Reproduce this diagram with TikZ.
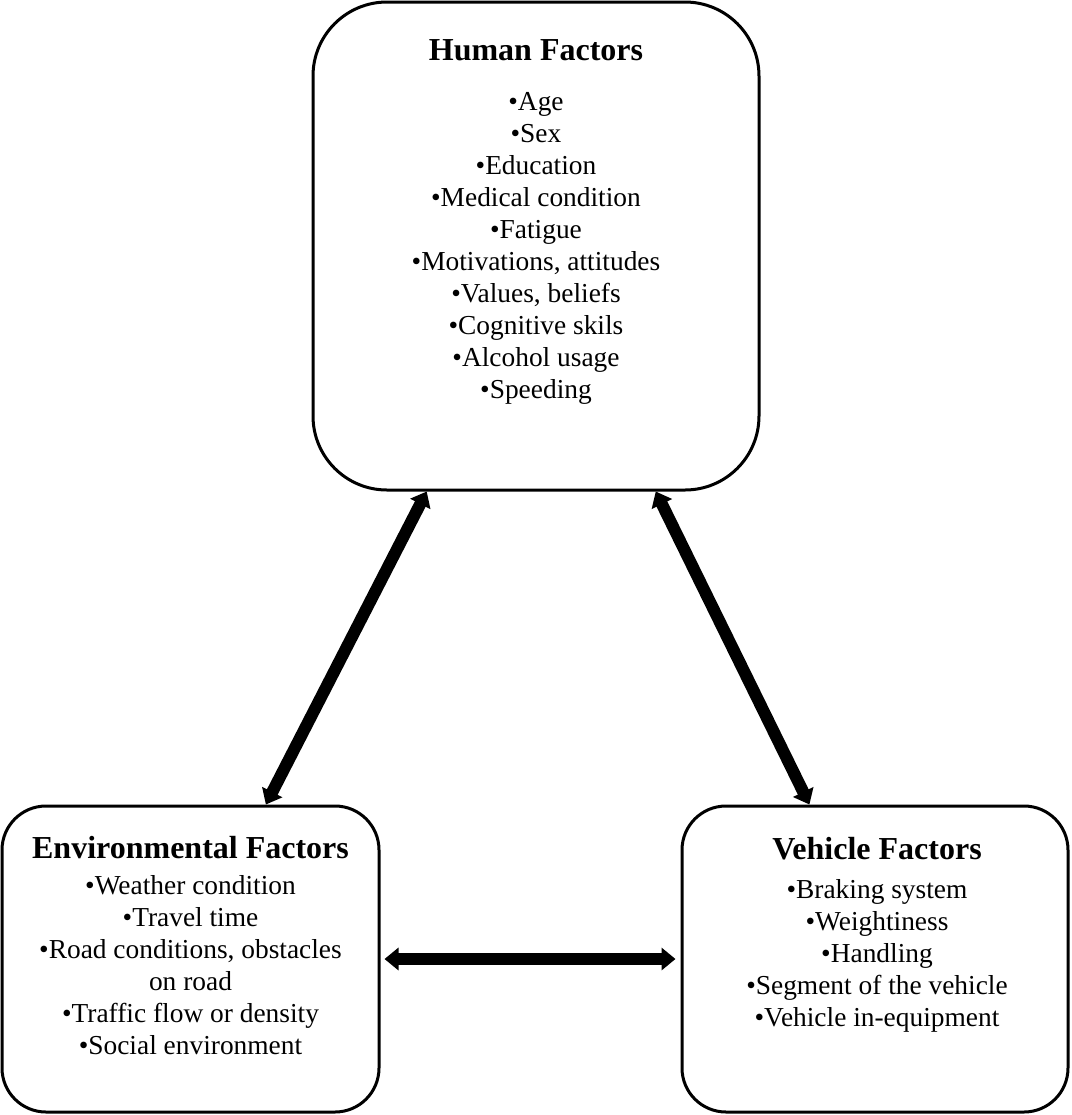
\documentclass[tikz,border=0pt]{standalone}
\usepackage{fontspec}
\setmainfont{Liberation Serif}
\usetikzlibrary{arrows.meta,positioning}

\tikzset{
  factorbox/.style={draw, line width=1.5pt, rounded corners=#1, inner sep=0pt},
  factortitle/.style={font=\fontsize{16}{18}\selectfont\bfseries, inner sep=0pt, anchor=base},
  factorlist/.style={font=\fontsize{13.7}{16}\selectfont, align=center, inner sep=0pt, anchor=north},
  link/.style={line width=6pt, {Triangle[length=7pt,width=11pt]}-{Triangle[length=7pt,width=11pt]}},
}

\begin{document}
\begin{tikzpicture}[x=0.5pt, y=-0.5pt]
    \useasboundingbox (0,0) rectangle (1072,1115);

    % the three boxes
    \node[factorbox=37pt, minimum width=223pt, minimum height=244pt] (human) at (536,246) {};
    \node[factorbox=22pt, minimum width=188.5pt, minimum height=153pt] (env) at (190.5,959) {};
    \node[factorbox=22pt, minimum width=193pt, minimum height=153pt] (vehicle) at (875,959) {};

    % texts
    \node[factortitle] (humantitle) at (536,60) {Human Factors};
    \node[factorlist] (humanlist) at (536,92) {\textbullet Age\\ \textbullet Sex\\ \textbullet Education\\
        \textbullet Medical condition\\ \textbullet Fatigue\\ \textbullet Motivations, attitudes\\
        \textbullet Values, beliefs\\ \textbullet Cognitive skils\\ \textbullet Alcohol usage\\ \textbullet Speeding};

    \node[factortitle] (envtitle) at (190.5,858) {Environmental Factors};
    \node[factorlist] (envlist) at (190.5,875) {\textbullet Weather condition\\ \textbullet Travel time\\
        \textbullet Road conditions, obstacles\\ on road\\ \textbullet Traffic flow or density\\
        \textbullet Social environment};

    \node[factortitle] (vehicletitle) at (877,859) {Vehicle Factors};
    \node[factorlist] (vehiclelist) at (877,879) {\textbullet Braking system\\ \textbullet Weightiness\\
        \textbullet Handling\\ \textbullet Segment of the vehicle\\ \textbullet Vehicle in-equipment};

    % arrows
    \draw[link] (human.-114) -- (env.64);
    \draw[link] (human.-64) -- (vehicle.113.6);
    \draw[link, shorten <=2pt, shorten >=2.5pt] (env.east) -- (vehicle.west);
\end{tikzpicture}
\end{document}
